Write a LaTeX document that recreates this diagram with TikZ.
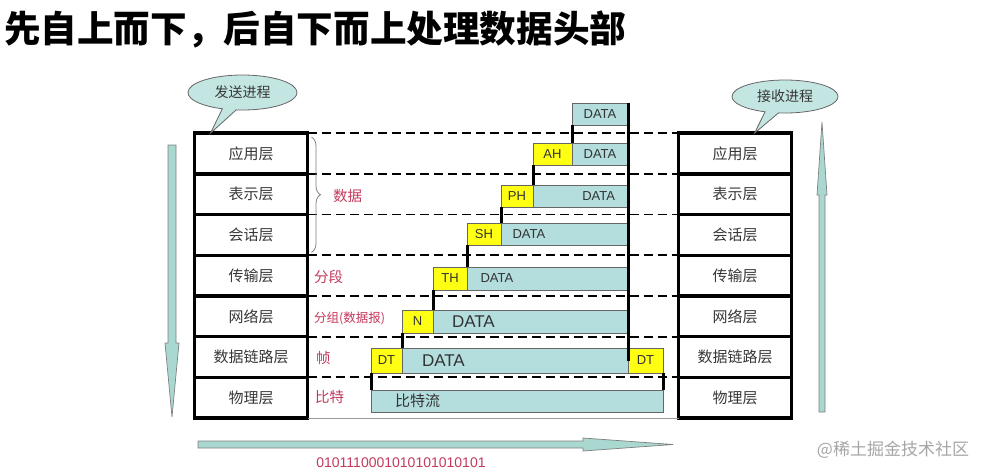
\documentclass[tikz,border=0pt]{standalone}
\usepackage{fontspec}
\usepackage{xcolor}
\usepackage{tikz}
\usetikzlibrary{positioning,shapes.callouts,decorations.pathreplacing,calc}

\setmainfont{Liberation Sans}
\newfontfamily\cjk{Noto Sans CJK SC}

\definecolor{tealbox}{RGB}{180,221,221}
\definecolor{hdryellow}{RGB}{255,255,20}
\definecolor{labelred}{RGB}{196,58,92}
\definecolor{arrowfill}{RGB}{168,216,208}
\definecolor{bubblefill}{RGB}{196,230,226}
\definecolor{textgray}{RGB}{55,55,55}

\begin{document}
\begin{tikzpicture}[
  x=1pt, y=-1pt,
  layer/.style={draw, line width=3.5pt, minimum width=113pt, minimum height=40.7pt,
                inner sep=0pt, outer sep=0pt, text=textgray,
                font=\cjk\fontsize{15}{15}\selectfont},
  bubble/.style={ellipse callout, draw=black!60, line width=0.8pt, fill=bubblefill,
                 minimum width=109pt, minimum height=35pt, inner sep=0pt,
                 text=textgray, font=\cjk\fontsize{14}{14}\selectfont},
  dbox/.style={draw=black!60, line width=0.6pt, fill=tealbox, anchor=north west,
               minimum height=22pt, inner sep=0pt, outer sep=0pt, text=black!80,
               font=\fontsize{13}{13}\selectfont},
  hbox/.style={dbox, fill=hdryellow},
  bigtext/.style={font=\fontsize{17}{17}\selectfont},
  redlbl/.style={anchor=west, inner sep=0pt, text=labelred,
                 font=\cjk\fontsize{14.5}{14.5}\selectfont},
  dashline/.style={line width=1.8pt, dash pattern=on 9pt off 5pt},
  tick/.style={line width=3pt},
  bigarrow/.style={fill=arrowfill, draw=black!50, line width=0.7pt}
]
  \path[fill=white, use as bounding box] (0,0) rectangle (991,475);

  % Titel
  \node[anchor=west, inner sep=0pt, font=\cjk\bfseries\fontsize{36.6}{36.6}\selectfont] (title)
    at (4,30) {先自上而下，后自下而上处理数据头部};

  % Sender
  \node[layer] (sApp) at (251,153.5) {应用层};
  \node[layer, below=0pt of sApp] (sPre) {表示层};
  \node[layer, below=0pt of sPre] (sSes) {会话层};
  \node[layer, below=0pt of sSes] (sTra) {传输层};
  \node[layer, below=0pt of sTra] (sNet) {网络层};
  \node[layer, below=0pt of sNet] (sDat) {数据链路层};
  \node[layer, below=0pt of sDat] (sPhy) {物理层};

  % Empfaenger
  \node[layer] (rApp) at (735,153.5) {应用层};
  \node[layer, below=0pt of rApp] (rPre) {表示层};
  \node[layer, below=0pt of rPre] (rSes) {会话层};
  \node[layer, below=0pt of rSes] (rTra) {传输层};
  \node[layer, below=0pt of rTra] (rNet) {网络层};
  \node[layer, below=0pt of rNet] (rDat) {数据链路层};
  \node[layer, below=0pt of rDat] (rPhy) {物理层};

  \node[bubble, callout absolute pointer={($(sApp.north west)+(16,0)$)}] (sProc)
    at (242.5,92.5) {发送进程};
  \node[bubble, minimum width=106pt, minimum height=33pt,
        callout absolute pointer={($(rApp.north west)+(76,0)$)}] (rProc)
    at (785,96.5) {接收进程};

  \foreach \a/\b in {sApp/rApp,sPre/rPre,sSes/rSes,sTra/rTra,sNet/rNet,sDat/rDat,sPhy/rPhy}
    \draw[dashline] (\a.north east) -- (\b.north west);
  \draw[black!40, line width=0.7pt] (sPhy.south east) -- (rPhy.south west);

  % Daten
  \node[dbox, minimum width=56pt] (d1) at (572,103) {DATA};
  \node[hbox, minimum width=39pt] (ah) at (533,143) {AH};
  \node[dbox, minimum width=56pt, right=0pt of ah] (d2) {DATA};
  \node[hbox, minimum width=32pt] (ph) at (501,185) {PH};
  \node[dbox, right=0pt of ph, inner xsep=13pt, text width=69pt, align=right] (d3) {DATA};
  \node[hbox, minimum width=34pt] (sh) at (467,223) {SH};
  \node[dbox, right=0pt of sh, inner xsep=11.5pt, text width=104pt, align=left] (d4) {DATA};
  \node[hbox, minimum width=34pt, minimum height=23pt] (th) at (433,267) {TH};
  \node[dbox, minimum height=23pt, right=0pt of th, inner xsep=13.5pt, text width=134pt,
        align=left] (d5) {DATA};
  \node[hbox, minimum width=31pt, minimum height=23pt] (nh) at (402,310) {N};
  \node[dbox, bigtext, minimum height=23pt, right=0pt of nh, inner xsep=19pt, text width=157pt,
        align=left] (d6) {DATA};
  \node[hbox, minimum width=31pt, minimum height=25pt] (dtL) at (371,348) {DT};
  \node[dbox, bigtext, minimum height=25pt, right=0pt of dtL, inner xsep=20pt, text width=186pt,
        align=left] (d7) {DATA};
  \node[hbox, minimum width=35pt, minimum height=25pt, right=0pt of d7] (dtR) {DT};
  \node[dbox, font=\cjk\fontsize{15}{15}\selectfont, at={(371,390)}, inner xsep=24pt,
        text width=244pt, align=left] (bits) {比特流};

  \draw[tick] (d1.south west) -- (d2.north west);
  \draw[tick] (ah.south west) -- (d3.north west);
  \draw[tick] (ph.south west) -- (d4.north west);
  \draw[tick] (sh.south west) -- (d5.north west);
  \draw[tick] (th.south west) -- (d6.north west);
  \draw[tick] (nh.south west) -- (d7.north west);
  \draw[tick] (dtL.south west) -- (bits.north west);
  \draw[tick] (dtR.south east) -- (bits.north east);
  \draw[tick] (d1.north east) -- (dtR.west);

  % Bezeichnungen
  \draw[decorate, decoration={brace, amplitude=9pt}, draw=black!50, line width=0.8pt]
    ($(sApp.north east)+(4,4)$) -- ($(sSes.south east)+(4,-3)$);
  \node[redlbl] (lData) at (333,196) {数据};
  \node[redlbl] (lSeg) at (314,277) {分段};
  \node[redlbl, font=\cjk\fontsize{12.5}{12.5}\selectfont] (lPkt) at (314,318) {分组(数据报)};
  \node[redlbl] (lFrm) at (316,358) {帧};
  \node[redlbl] (lBit) at (315,397) {比特};

  % Pfeile
  \draw[bigarrow] (168,145) -- (176,145) -- (176,343) -- (179,343) -- (172,417)
    -- (165,343) -- (168,343) -- cycle;
  \draw[bigarrow] (819,412) -- (825,412) -- (825,195) -- (827,195) -- (822,122)
    -- (817,195) -- (819,195) -- cycle;
  \draw[bigarrow] (198,441) -- (583,441) -- (583,438) -- (673,444.5) -- (583,451)
    -- (583,448) -- (198,448) -- cycle;

  \node[text=labelred, font=\fontsize{14}{14}\selectfont] (bitstr) at (401,463)
    {0101110001010101010101};
  \node[text=black!35, font=\cjk\fontsize{17}{17}\selectfont] (wm) at (893,450)
    {@稀土掘金技术社区};
\end{tikzpicture}
\end{document}
